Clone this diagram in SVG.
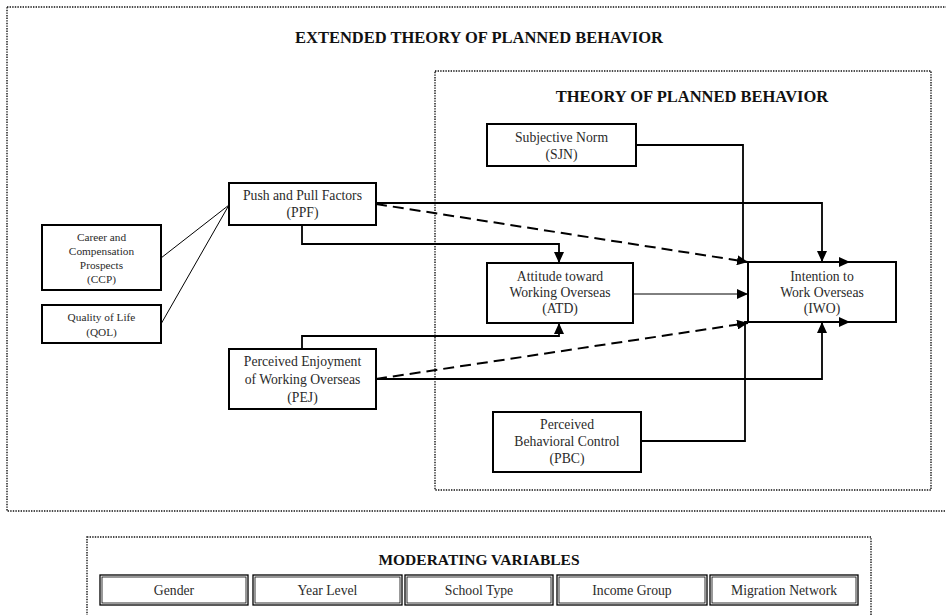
<svg xmlns="http://www.w3.org/2000/svg" width="946" height="615" viewBox="0 0 946 615">
<defs>
<marker id="ah" markerUnits="userSpaceOnUse" markerWidth="12" markerHeight="10" refX="11" refY="5" orient="auto">
<path d="M0,0 L11,5 L0,10 Z" fill="#000"/>
</marker>
<style>
.dot{fill:none;stroke:#111;stroke-width:1.4;stroke-dasharray:1.4 1.2}
.box{fill:#fff;stroke:#000;stroke-width:2}
.mb{fill:#fff;stroke:#000;stroke-width:1.3}
.mbi{fill:none;stroke:#000;stroke-width:0.8}
.t{font-family:"Liberation Serif","Times New Roman",serif;font-size:13.7px;fill:#2a2a2a;text-anchor:middle}
.s{font-size:11.3px}
.h{font-family:"Liberation Serif","Times New Roman",serif;font-weight:bold;fill:#111;text-anchor:middle}
.c{fill:none;stroke:#000;stroke-width:1.8}
.thin{fill:none;stroke:#000;stroke-width:1}
.d{fill:none;stroke:#000;stroke-width:2;stroke-dasharray:11 6}
</style>
</defs>
<rect width="946" height="615" fill="#fff"/>
<g id="frames">
<rect class="dot" x="7" y="7" width="945" height="504"/>
<text class="h" x="479" y="43" font-size="16.5">EXTENDED THEORY OF PLANNED BEHAVIOR</text>
<rect class="dot" x="435" y="71" width="496" height="419"/>
<text class="h" x="692" y="102" font-size="16.5">THEORY OF PLANNED BEHAVIOR</text>
<rect class="dot" x="87" y="537" width="784" height="90"/>
<text class="h" x="479" y="565" font-size="15.5">MODERATING VARIABLES</text>
</g>
<g id="PPF">
<rect class="box" x="229" y="183" width="147" height="42"/>
<text class="t" x="302.5" y="200">Push and Pull Factors</text>
<text class="t" x="302.5" y="217">(PPF)</text>
</g>
<g id="CCP">
<rect class="box" x="42" y="225" width="119" height="65"/>
<text class="t s" x="101.5" y="241">Career and</text>
<text class="t s" x="101.5" y="255">Compensation</text>
<text class="t s" x="101.5" y="269">Prospects</text>
<text class="t s" x="101.5" y="283">(CCP)</text>
</g>
<g id="QOL">
<rect class="box" x="42" y="305" width="119" height="38"/>
<text class="t s" x="101.5" y="321">Quality of Life</text>
<text class="t s" x="101.5" y="336">(QOL)</text>
</g>
<g id="PEJ">
<rect class="box" x="229" y="349" width="147" height="60"/>
<text class="t" x="302.5" y="366">Perceived Enjoyment</text>
<text class="t" x="302.5" y="384">of  Working Overseas</text>
<text class="t" x="302.5" y="402">(PEJ)</text>
</g>
<g id="SJN">
<rect class="box" x="487" y="124" width="149" height="42"/>
<text class="t" x="561.5" y="142">Subjective Norm</text>
<text class="t" x="561.5" y="159">(SJN)</text>
</g>
<g id="ATD">
<rect class="box" x="487" y="263" width="146" height="60"/>
<text class="t" x="560" y="281">Attitude toward</text>
<text class="t" x="560" y="297">Working Overseas</text>
<text class="t" x="560" y="313">(ATD)</text>
</g>
<g id="IWO">
<rect class="box" x="748" y="262" width="148" height="60"/>
<text class="t" x="822" y="281">Intention to</text>
<text class="t" x="822" y="297">Work Overseas</text>
<text class="t" x="822" y="313">(IWO)</text>
</g>
<g id="PBC">
<rect class="box" x="493" y="412" width="148" height="60"/>
<text class="t" x="567" y="429">Perceived</text>
<text class="t" x="567" y="446">Behavioral Control</text>
<text class="t" x="567" y="463">(PBC)</text>
</g>
<g id="Gender">
<rect class="mb" x="100" y="575" width="148" height="30"/>
<rect class="mbi" x="102" y="577" width="144" height="26"/>
<text class="t" x="174" y="595">Gender</text>
</g>
<g id="YearLevel">
<rect class="mb" x="253" y="575" width="149" height="30"/>
<rect class="mbi" x="255" y="577" width="145" height="26"/>
<text class="t" x="327.5" y="595">Year Level</text>
</g>
<g id="SchoolType">
<rect class="mb" x="405" y="575" width="148" height="30"/>
<rect class="mbi" x="407" y="577" width="144" height="26"/>
<text class="t" x="479" y="595">School Type</text>
</g>
<g id="IncomeGroup">
<rect class="mb" x="557" y="575" width="150" height="30"/>
<rect class="mbi" x="559" y="577" width="146" height="26"/>
<text class="t" x="632" y="595">Income Group</text>
</g>
<g id="MigrationNetwork">
<rect class="mb" x="710" y="575" width="148" height="30"/>
<rect class="mbi" x="712" y="577" width="144" height="26"/>
<text class="t" x="784" y="595">Migration Network</text>
</g>
<g id="connectors">
<line class="thin" x1="161" y1="258" x2="229" y2="205"/>
<line class="thin" x1="161" y1="324" x2="229" y2="205"/>
<path class="c" d="M636,145 H743 V262 H850" marker-end="url(#ah)"/>
<path class="c" d="M641,441 H745 V322 H850" marker-end="url(#ah)"/>
<path class="c" d="M376,203 H822 V262" marker-end="url(#ah)"/>
<path class="d" d="M376,204 L748,262" marker-end="url(#ah)"/>
<path class="c" d="M302,225 V244 H559 V263" marker-end="url(#ah)"/>
<path class="thin" d="M633,294 H748" stroke-width="1.3" marker-end="url(#ah)"/>
<path class="c" d="M302,349 V336 H559 V323" marker-end="url(#ah)"/>
<path class="d" d="M376,379 L748,323" marker-end="url(#ah)"/>
<path class="c" d="M376,379 H822 V322" marker-end="url(#ah)"/>
</g>
</svg>
